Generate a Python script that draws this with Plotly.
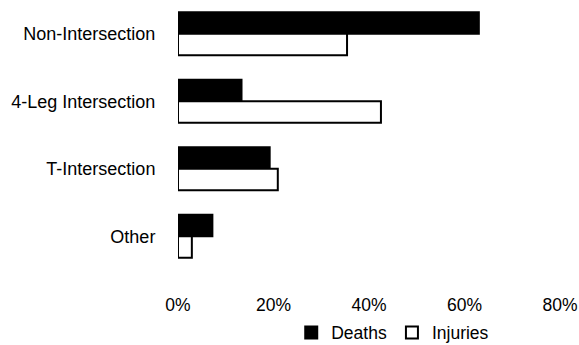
import plotly.graph_objects as go

categories = ["Non-Intersection", "4-Leg Intersection", "T-Intersection", "Other"]
deaths = [63, 13.3, 19.2, 7.2]
injuries = [35.4, 42.5, 20.9, 2.9]
tick_vals = [0, 20, 40, 60, 80]
tick_text = ["0%", "20%", "40%", "60%", "80%"]

fig = go.Figure()
fig.add_trace(go.Bar(
    name="Deaths", y=categories, x=deaths, orientation="h",
    marker=dict(color="#000000", line=dict(color="#000000", width=2)),
))
fig.add_trace(go.Bar(
    name="Injuries", y=categories, x=injuries, orientation="h",
    marker=dict(color="#ffffff", line=dict(color="#000000", width=2)),
))

fig.update_layout(
    width=579, height=345,
    barmode="group", bargap=0.36, bargroupgap=0,
    plot_bgcolor="white", paper_bgcolor="white",
    font=dict(family="Liberation Sans, Arial, sans-serif", size=17.5, color="#000000"),
    margin=dict(l=178, r=19, t=0, b=75),
    showlegend=True,
    legend=dict(orientation="h", xref="container", yref="container",
                x=0.503, xanchor="left", y=0.036, yanchor="middle",
                font=dict(size=17.5), itemwidth=30, tracegroupgap=0),
    xaxis=dict(range=[0, 80], tickvals=tick_vals, ticktext=tick_text,
               showgrid=False, zeroline=False, showline=False, automargin=False,
               ticks="outside", ticklen=19, tickcolor="rgba(0,0,0,0)"),
    yaxis=dict(autorange="reversed", showgrid=False, zeroline=False, showline=False,
               automargin=False, tickfont=dict(size=18),
               ticks="outside", ticklen=18, tickcolor="rgba(0,0,0,0)"),
)

fig.write_html("out.html", config={"displayModeBar": False},
               post_script="document.body.style.margin='0';document.body.style.overflow='hidden';")
